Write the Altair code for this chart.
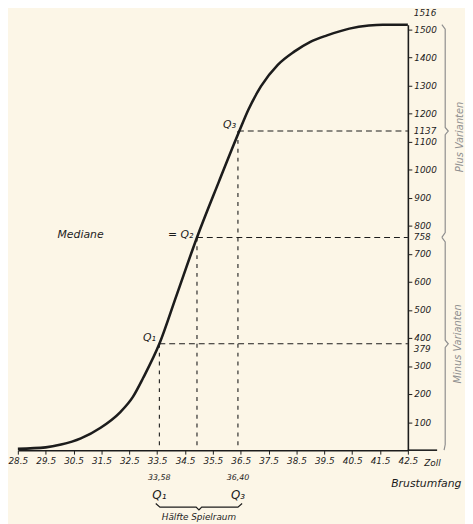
import altair as alt
import pandas as pd

# ---- data ----
curve_x = [28.5, 29.5, 30.05, 30.76, 31.47, 32.17, 32.63, 33.0, 33.58, 34.19, 34.93,
           35.71, 36.45, 36.77, 37.23, 37.83, 38.42, 39.0, 39.6, 40.4, 41.1, 41.6, 42.5]
curve_v = [5, 10, 20, 42, 80, 135, 190, 258, 379, 550, 758,
           955, 1137, 1212, 1297, 1373, 1420, 1455, 1478, 1502, 1513, 1516, 1516]

q_names = ["Q₁", "Q₂", "Q₃"]
q_x = [33.58, 34.93, 36.40]
q_v = [379, 758, 1137]

x_ticks = [28.5, 29.5, 30.5, 31.5, 32.5, 33.5, 34.5, 35.5, 36.5, 37.5, 38.5, 39.5, 40.5, 41.5, 42.5]
y_ticks = [100, 200, 300, 400, 500, 600, 700, 800, 900, 1000, 1100, 1200, 1300, 1400, 1500]
extra_y_labels = ["1516", "1137", "758", "379"]
extra_y_values = [1516, 1137, 758, 379]
extra_y_dy = [-12, 0, 0, 5]

x_max = 42.5

INK = "#1c1c1c"
GRAY = "#8f8f8f"
BG = "#fcf6e7"
FONT = "DejaVu Sans"

xs = alt.Scale(domain=[28.5, 42.5], nice=False, zero=False)
ys = alt.Scale(domain=[0, 1516], nice=False, zero=True)

x_axis = alt.Axis(
    values=x_ticks, format=".1f", title=None, grid=False, tickSize=4,
    labelPadding=3, domainWidth=1.6, domainColor=INK, tickColor=INK,
    labelColor=INK, labelFont=FONT, labelFontStyle="oblique", labelFontSize=9,
    labelOverlap=False, labelFlush=False)
y_axis = alt.Axis(
    orient="right", values=y_ticks, format="d", title=None, grid=False, tickSize=4,
    labelPadding=2, domainWidth=1.6, domainColor=INK, tickColor=INK,
    labelColor=INK, labelFont=FONT, labelFontStyle="oblique", labelFontSize=9,
    labelOverlap=False, labelFlush=False)
X = alt.X("x:Q", scale=xs, axis=x_axis)
Y = alt.Y("v:Q", scale=ys, axis=y_axis)

curve_df = pd.DataFrame({"x": curve_x, "v": curve_v, "o": list(range(len(curve_x)))})
curve = alt.Chart(curve_df).mark_line(color=INK, strokeWidth=2.6, interpolate="monotone").encode(
    x=X, y=Y, order="o:Q")

# dashed guide lines
h_df = pd.DataFrame({"x": q_x, "x2": [x_max] * 3, "v": q_v})
v_df = pd.DataFrame({"x": q_x, "v": q_v, "v2": [0] * 3})
hlines = alt.Chart(h_df).mark_rule(color=INK, strokeWidth=1.1, strokeDash=[6, 4]).encode(
    x=X, x2="x2:Q", y=Y)
vlines = alt.Chart(v_df).mark_rule(color=INK, strokeWidth=1.1, strokeDash=[4, 5]).encode(
    x=X, y=Y, y2="v2:Q")

# extension of the x axis line past the right axis
ext_df = pd.DataFrame({"x": [42.5], "x2": [43.55], "v": [0]})
ext = alt.Chart(ext_df).mark_rule(color=INK, strokeWidth=1.6).encode(x=X, x2="x2:Q", y=Y)

# extra labels on the right axis
ey_df = pd.DataFrame({"x": [x_max] * 4, "v": extra_y_values, "t": extra_y_labels})
ey_layers = []
for i in range(len(extra_y_labels)):
    ey_layers.append(
        alt.Chart(ey_df.iloc[[i]]).mark_text(
            align="left", baseline="middle", dx=6, dy=extra_y_dy[i], font=FONT,
            fontStyle="oblique", fontSize=9, color=INK).encode(x=X, y=Y, text="t:N"))

# labels near the curve
lab_df = pd.DataFrame({
    "x": [33.45, 34.80, 36.33, 30.75],
    "v": [400, 766, 1160, 766],
    "t": ["Q₁", "= Q₂", "Q₃", "Mediane"],
})
lab_r = alt.Chart(lab_df.iloc[:3]).mark_text(
    align="right", baseline="middle", font=FONT, fontStyle="oblique", fontSize=11, color=INK
).encode(x=X, y=Y, text="t:N")
lab_m = alt.Chart(lab_df.iloc[[3]]).mark_text(
    align="center", baseline="middle", font=FONT, fontStyle="oblique", fontSize=11,
    color=INK).encode(x=X, y=Y, text="t:N")

# labels below the x axis
below_df = pd.DataFrame({
    "x": [33.58, 36.40, 33.58, 36.40, 35.0],
    "v": [-100, -100, -160, -160, -237],
    "t": ["33,58", "36,40", "Q₁", "Q₃", "Hälfte Spielraum"],
})
below_small = alt.Chart(below_df.iloc[:2]).mark_text(
    align="center", baseline="middle", font=FONT, fontStyle="oblique", fontSize=8, color=INK
).encode(x=X, y=Y, text="t:N")
below_q = alt.Chart(below_df.iloc[2:4]).mark_text(
    align="center", baseline="middle", font=FONT, fontStyle="oblique", fontSize=12, color=INK
).encode(x=X, y=Y, text="t:N")
below_h = alt.Chart(below_df.iloc[[4]]).mark_text(
    align="center", baseline="middle", font=FONT, fontStyle="oblique", fontSize=9, color=INK
).encode(x=X, y=Y, text="t:N")

side_df = pd.DataFrame({"x": [43.38, 43.16], "v": [-46, -120], "t": ["Zoll", "Brustumfang"]})
zoll = alt.Chart(side_df.iloc[[0]]).mark_text(
    align="center", baseline="middle", font=FONT, fontStyle="oblique", fontSize=9, color=INK
).encode(x=X, y=Y, text="t:N")
brust = alt.Chart(side_df.iloc[[1]]).mark_text(
    align="center", baseline="middle", font=FONT, fontStyle="oblique", fontSize=11,
    color=INK).encode(x=X, y=Y, text="t:N")

# braces
brace_rows = []
plus = [(43.72, 1516), (43.84, 1500), (43.84, 1150), (43.95, 1137), (43.84, 1124), (43.84, 775), (43.72, 758)]
minus = [(43.72, 758), (43.84, 742), (43.84, 392), (43.95, 379), (43.84, 366), (43.84, 20), (43.80, 0)]
bottom = [(33.45, -190), (33.6, -203), (34.9, -203), (35.0, -213), (35.1, -203), (36.4, -203), (36.55, -190)]
for name, pts in [("plus", plus), ("minus", minus), ("bottom", bottom)]:
    for k, (bx, bv) in enumerate(pts):
        brace_rows.append({"x": bx, "v": bv, "b": name, "o": k})
brace_df = pd.DataFrame(brace_rows)
braces_side = alt.Chart(brace_df[brace_df.b != "bottom"]).mark_line(
    color=GRAY, strokeWidth=1.2).encode(x=X, y=Y, detail="b:N", order="o:Q")
brace_bottom = alt.Chart(brace_df[brace_df.b == "bottom"]).mark_line(
    color=INK, strokeWidth=1.2).encode(x=X, y=Y, detail="b:N", order="o:Q")

var_df = pd.DataFrame({"x": [44.38, 44.3], "v": [1116, 379], "t": ["Plus Varianten", "Minus Varianten"]})
var_text = alt.Chart(var_df).mark_text(
    align="center", baseline="middle", angle=270, font=FONT, fontStyle="oblique",
    fontSize=10, color=GRAY).encode(x=X, y=Y, text="t:N")

chart = alt.layer(
    curve, hlines, vlines, ext, *ey_layers, lab_r, lab_m, below_small, below_q, below_h,
    zoll, brust, braces_side, brace_bottom, var_text
).properties(
    width=396, height=432,
    autosize=alt.AutoSizeParams(type="none"),
    padding={"left": 10, "top": 13, "right": 58, "bottom": 71},
    background=BG,
).configure_view(stroke=None)

chart.save("out.html", embed_options={"renderer": "svg", "actions": False})
